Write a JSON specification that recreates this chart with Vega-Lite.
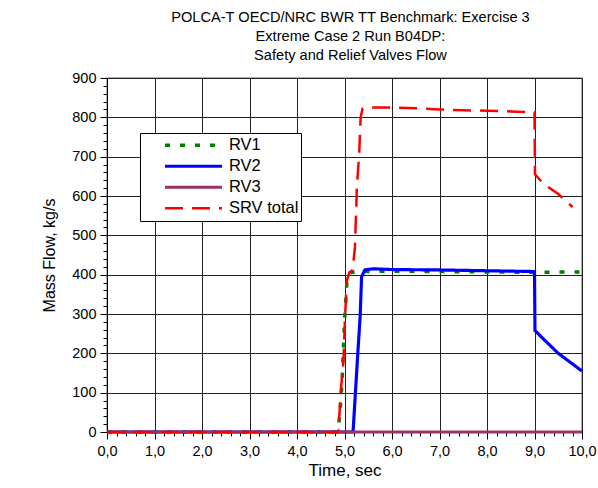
{
  "$schema": "https://vega.github.io/schema/vega-lite/v6.json",
  "width": 475,
  "height": 354,
  "autosize": {"type": "none"},
  "padding": {"left": 107, "top": 78, "right": 16, "bottom": 56},
  "background": "white",
  "title": {
    "text": ["POLCA-T OECD/NRC BWR TT Benchmark: Exercise 3", "Extreme Case 2 Run B04DP:", "Safety and Relief Valves Flow"],
    "font": "Liberation Sans",
    "fontSize": 14.6,
    "fontWeight": "normal",
    "color": "black",
    "lineHeight": 19,
    "offset": 7,
    "anchor": "middle",
    "dx": 6
  },
  "config": {
    "view": {"stroke": "#999999", "strokeWidth": 1.5},
    "axis": {
      "labelFont": "Liberation Sans",
      "titleFont": "Liberation Sans",
      "labelColor": "black",
      "titleColor": "black",
      "titleFontWeight": "normal",
      "domainColor": "black",
      "tickColor": "black",
      "gridColor": "#222222",
      "gridWidth": 1
    }
  },
  "data": {
    "values": [
      {"series": "RV1", "t": 0, "v": 0},
      {"series": "RV1", "t": 4.85, "v": 0},
      {"series": "RV1", "t": 4.9, "v": 40},
      {"series": "RV1", "t": 4.95, "v": 130},
      {"series": "RV1", "t": 5.0, "v": 280},
      {"series": "RV1", "t": 5.05, "v": 380},
      {"series": "RV1", "t": 5.12, "v": 405},
      {"series": "RV1", "t": 5.3, "v": 408},
      {"series": "RV1", "t": 6, "v": 409},
      {"series": "RV1", "t": 7, "v": 408},
      {"series": "RV1", "t": 8, "v": 407},
      {"series": "RV1", "t": 9, "v": 406},
      {"series": "RV1", "t": 10, "v": 407},
      {"series": "RV2", "t": 0, "v": 0},
      {"series": "RV2", "t": 5.18, "v": 0},
      {"series": "RV2", "t": 5.23, "v": 100},
      {"series": "RV2", "t": 5.28, "v": 200},
      {"series": "RV2", "t": 5.33, "v": 295},
      {"series": "RV2", "t": 5.36, "v": 395},
      {"series": "RV2", "t": 5.43, "v": 412},
      {"series": "RV2", "t": 5.6, "v": 415},
      {"series": "RV2", "t": 6, "v": 413},
      {"series": "RV2", "t": 7, "v": 412},
      {"series": "RV2", "t": 8, "v": 410},
      {"series": "RV2", "t": 9, "v": 408},
      {"series": "RV2", "t": 9.01, "v": 258},
      {"series": "RV2", "t": 9.2, "v": 235},
      {"series": "RV2", "t": 9.5, "v": 200},
      {"series": "RV2", "t": 10, "v": 155},
      {"series": "RV3", "t": 0, "v": 0},
      {"series": "RV3", "t": 10, "v": 0},
      {"series": "SRV total", "t": 0, "v": 0},
      {"series": "SRV total", "t": 4.87, "v": 0},
      {"series": "SRV total", "t": 4.92, "v": 100},
      {"series": "SRV total", "t": 4.98, "v": 185},
      {"series": "SRV total", "t": 5.01, "v": 290},
      {"series": "SRV total", "t": 5.05, "v": 385},
      {"series": "SRV total", "t": 5.1, "v": 405},
      {"series": "SRV total", "t": 5.17, "v": 412},
      {"series": "SRV total", "t": 5.22, "v": 470},
      {"series": "SRV total", "t": 5.26, "v": 620},
      {"series": "SRV total", "t": 5.31, "v": 710},
      {"series": "SRV total", "t": 5.34, "v": 800},
      {"series": "SRV total", "t": 5.38, "v": 822},
      {"series": "SRV total", "t": 5.47, "v": 825},
      {"series": "SRV total", "t": 6, "v": 825},
      {"series": "SRV total", "t": 6.5, "v": 823},
      {"series": "SRV total", "t": 7, "v": 820},
      {"series": "SRV total", "t": 7.5, "v": 818},
      {"series": "SRV total", "t": 8, "v": 817},
      {"series": "SRV total", "t": 8.5, "v": 815},
      {"series": "SRV total", "t": 9, "v": 813},
      {"series": "SRV total", "t": 9.01, "v": 655},
      {"series": "SRV total", "t": 9.2, "v": 630},
      {"series": "SRV total", "t": 9.5, "v": 605},
      {"series": "SRV total", "t": 9.8, "v": 572}
    ]
  },
  "mark": {"type": "line"},
  "encoding": {
    "x": {
      "field": "t",
      "type": "quantitative",
      "scale": {"domain": [0, 10], "nice": false, "zero": false},
      "axis": {
        "title": "Time, sec",
        "titleFontSize": 17,
        "titlePadding": 5,
        "labelFontSize": 14.5,
        "labelPadding": 5,
        "values": [0,0.2,0.4,0.6,0.8,1,1.2,1.4,1.6,1.8,2,2.2,2.4,2.6,2.8,3,3.2,3.4,3.6,3.8,4,4.2,4.4,4.6,4.8,5,5.2,5.4,5.6,5.8,6,6.2,6.4,6.6,6.8,7,7.2,7.4,7.6,7.8,8,8.2,8.4,8.6,8.8,9,9.2,9.4,9.6,9.8,10],
        "labelExpr": "abs(datum.value - round(datum.value)) < 0.001 ? replace(format(datum.value, '.1f'), '.', ',') : ''",
        "tickSize": {"condition": {"test": "abs(datum.value - round(datum.value)) < 0.001", "value": 7}, "value": 4},
        "gridOpacity": {"condition": {"test": "abs(datum.value - round(datum.value)) < 0.001", "value": 1}, "value": 0},
        "labelOverlap": false,
        "labelFlush": false
      }
    },
    "y": {
      "field": "v",
      "type": "quantitative",
      "scale": {"domain": [0, 900], "nice": false},
      "axis": {
        "title": "Mass Flow, kg/s",
        "titleFontSize": 16,
        "titlePadding": 14,
        "labelFontSize": 14.5,
        "labelPadding": 4,
        "values": [0,20,40,60,80,100,120,140,160,180,200,220,240,260,280,300,320,340,360,380,400,420,440,460,480,500,520,540,560,580,600,620,640,660,680,700,720,740,760,780,800,820,840,860,880,900],
        "labelExpr": "datum.value % 100 == 0 ? datum.value : ''",
        "tickSize": {"condition": {"test": "datum.value % 100 == 0", "value": 7}, "value": 4},
        "gridOpacity": {"condition": {"test": "datum.value % 100 == 0", "value": 1}, "value": 0},
        "labelOverlap": false,
        "labelFlush": false
      }
    },
    "color": {
      "field": "series",
      "type": "nominal",
      "scale": {"domain": ["RV1", "RV2", "RV3", "SRV total"], "range": ["#008000", "#0000ff", "#993366", "#ff0000"]},
      "legend": {
        "title": null,
        "orient": "none",
        "legendX": 33,
        "legendY": 55,
        "symbolType": "stroke",
        "symbolSize": 3249,
        "symbolStrokeWidth": 3,
        "symbolOffset": 21,
        "clipHeight": 20.5,
        "labelFont": "Liberation Sans",
        "labelFontSize": 16.5,
        "labelColor": "black",
        "labelOffset": 5,
        "strokeColor": "black",
        "fillColor": "white",
        "padding": 2,
        "rowPadding": 0
      }
    },
    "strokeDash": {
      "field": "series",
      "type": "nominal",
      "scale": {"domain": ["RV1", "RV2", "RV3", "SRV total"], "range": [[5, 10], [1, 0], [1, 0], [18, 9]]},
      "legend": {
        "title": null,
        "orient": "none",
        "legendX": 33,
        "legendY": 55,
        "symbolType": "stroke",
        "symbolSize": 3249,
        "symbolStrokeWidth": 3,
        "symbolOffset": 21,
        "clipHeight": 20.5,
        "labelFont": "Liberation Sans",
        "labelFontSize": 16.5,
        "labelColor": "black",
        "labelOffset": 5,
        "strokeColor": "black",
        "fillColor": "white",
        "padding": 2,
        "rowPadding": 0
      }
    },
    "strokeWidth": {
      "field": "series",
      "type": "nominal",
      "scale": {"domain": ["RV1", "RV2", "RV3", "SRV total"], "range": [3.5, 2.5, 2, 3]},
      "legend": null
    }
  }
}
